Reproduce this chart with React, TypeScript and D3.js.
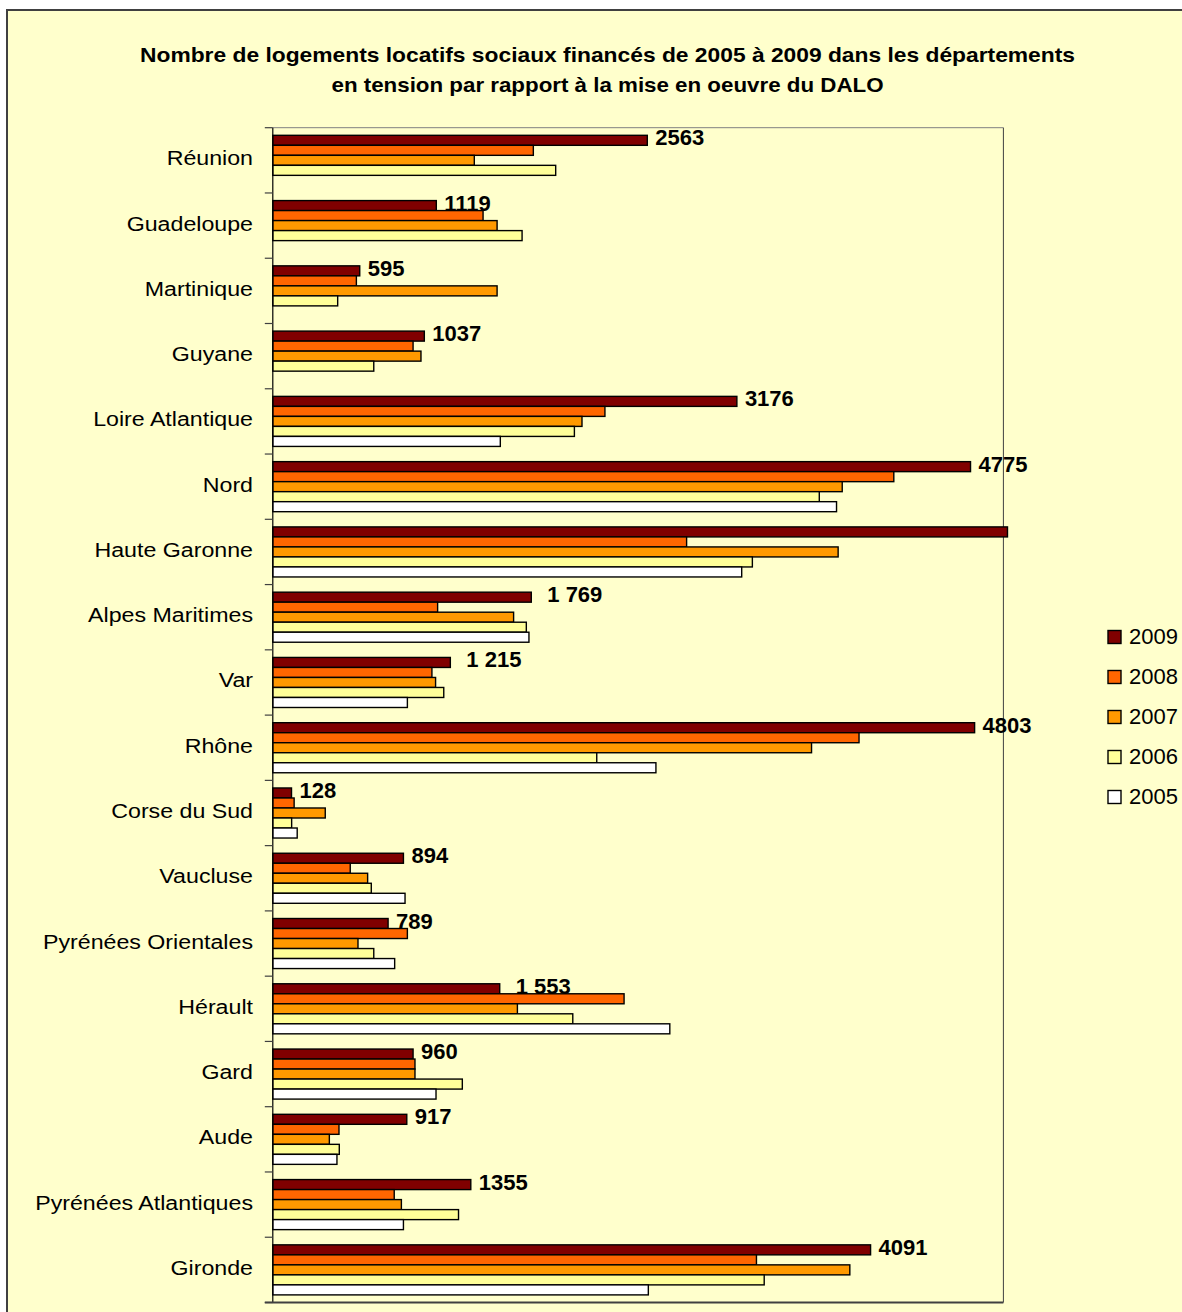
import React from "react";
import * as d3 from "d3";

const categories = [
  "Réunion", "Guadeloupe", "Martinique", "Guyane", "Loire Atlantique", "Nord",
  "Haute Garonne", "Alpes Maritimes", "Var", "Rhône", "Corse du Sud", "Vaucluse",
  "Pyrénées Orientales", "Hérault", "Gard", "Aude", "Pyrénées Atlantiques", "Gironde",
];
const years = ["2009", "2008", "2007", "2006", "2005"];
const v2009 = [2563, 1119, 595, 1037, 3176, 4775, 5028, 1769, 1215, 4803, 128, 894, 789, 1553, 960, 917, 1355, 4091];
const v2008 = [1783, 1439, 572, 960, 2273, 4250, 2832, 1128, 1089, 4012, 146, 530, 921, 2404, 973, 453, 831, 3310];
const v2007 = [1379, 1535, 1535, 1014, 2116, 3897, 3869, 1648, 1114, 3687, 359, 649, 583, 1674, 973, 387, 880, 3949];
const v2006 = [1936, 1706, 444, 691, 2064, 3740, 3282, 1735, 1170, 2217, 129, 674, 691, 2053, 1297, 455, 1271, 3363];
const v2005 = [0, 0, 0, 0, 1557, 3858, 3209, 1753, 921, 2622, 167, 905, 834, 2717, 1117, 439, 894, 2570];
const labels2009 = ["2563", "1119", "595", "1037", "3176", "4775", "", "1 769", "1 215", "4803", "128", "894", "789", "1 553", "960", "917", "1355", "4091"];
const seriesValues = [v2009, v2008, v2007, v2006, v2005];
const colors = ["#800000", "#FF6600", "#FF9900", "#FFFF99", "#FFFFFF"];
const titleLines = [
  "Nombre de logements locatifs sociaux financés de 2005 à 2009 dans les départements",
  "en tension par rapport à la mise en oeuvre du DALO",
];
const xDomainMax = 5000;

const FONT = "'Liberation Sans', Arial, Helvetica, sans-serif";
const BG = "#FFFFCC";

export default function App() {
  const W = 1182, H = 1312;
  const plot = { left: 272.8, right: 1003.4, top: 127.7, bottom: 1302.5 };
  const x = d3.scaleLinear().domain([0, xDomainMax]).range([plot.left, plot.right]);
  const y = d3.scaleBand<string>().domain(categories).range([plot.top, plot.bottom]).paddingInner(0).paddingOuter(0);
  const inner = d3.scaleBand<string>().domain(years).range([0, y.bandwidth()]).paddingInner(0).paddingOuter(0.76);
  const boundaries = categories.map((c) => y(c) as number).concat([plot.bottom]);

  return (
    <svg width={W} height={H} style={{ position: "absolute", left: 0, top: 0, background: "#fff" }}
      fontFamily={FONT}>
      <rect x={7} y={10} width={1300} height={1400} fill={BG} stroke="#404040" strokeWidth={2} />
      {titleLines.map((t, i) => (
        <text key={i} x={607.5} y={61.5 + i * 30} textAnchor="middle" fontWeight="bold" fontSize={21}
          textLength={i === 0 ? 935 : 552} lengthAdjust="spacingAndGlyphs" fill="#000">{t}</text>
      ))}
      {/* plot area */}
      <rect x={plot.left} y={plot.top} width={plot.right - plot.left} height={plot.bottom - plot.top}
        fill={BG} stroke="none" />
      <line x1={plot.left} x2={plot.right} y1={plot.top} y2={plot.top} stroke="#808080" strokeWidth={1} />
      <line x1={plot.right} x2={plot.right} y1={plot.top} y2={plot.bottom} stroke="#404040" strokeWidth={1} />
      {/* bars */}
      {categories.map((c, ci) => (
        <g key={c}>
          {years.map((yr, si) => {
            const v = seriesValues[si][ci];
            if (!v) return null;
            const by = (y(c) as number) + (inner(yr) as number);
            return (
              <rect key={yr} x={x(0)} y={by} width={x(v) - x(0)} height={inner.bandwidth()}
                fill={colors[si]} stroke="#000" strokeWidth={1.4} />
            );
          })}
        </g>
      ))}
      {/* axes */}
      <line x1={plot.left} x2={plot.left} y1={plot.top} y2={plot.bottom} stroke="#000" strokeWidth={1.2} />
      {boundaries.map((b, i) => (
        <line key={i} x1={plot.left - 8} x2={plot.left} y1={b} y2={b} stroke="#404040" strokeWidth={1.2} />
      ))}
      <line x1={plot.left - 8} x2={plot.right} y1={plot.bottom} y2={plot.bottom} stroke="#404040" strokeWidth={2} />
      {/* category labels */}
      {categories.map((c) => {
        const cy = (y(c) as number) + y.bandwidth() / 2 + 5;
        return (
          <text key={c} transform={`translate(253,${cy}) scale(1.16,1)`} textAnchor="end" fontSize={20} fill="#000">{c}</text>
        );
      })}
      {/* data labels */}
      {categories.map((c, ci) => {
        const lab = labels2009[ci];
        if (!lab) return null;
        const bx = x(v2009[ci]) + 8 + (lab.includes(" ") ? 8 : 0);
        const by = (y(c) as number) + (inner("2009") as number) + inner.bandwidth();
        return (
          <text key={c} x={bx} y={by} fontSize={22} fontWeight="bold" fill="#000">{lab}</text>
        );
      })}
      {/* legend */}
      {years.map((yr, i) => {
        const ly = 637 + i * 40;
        return (
          <g key={yr}>
            <rect x={1108} y={ly - 6.5} width={13} height={13} fill={colors[i]} stroke="#000" strokeWidth={1.4} />
            <text x={1129} y={ly + 7} fontSize={22} fill="#000">{yr}</text>
          </g>
        );
      })}
    </svg>
  );
}
